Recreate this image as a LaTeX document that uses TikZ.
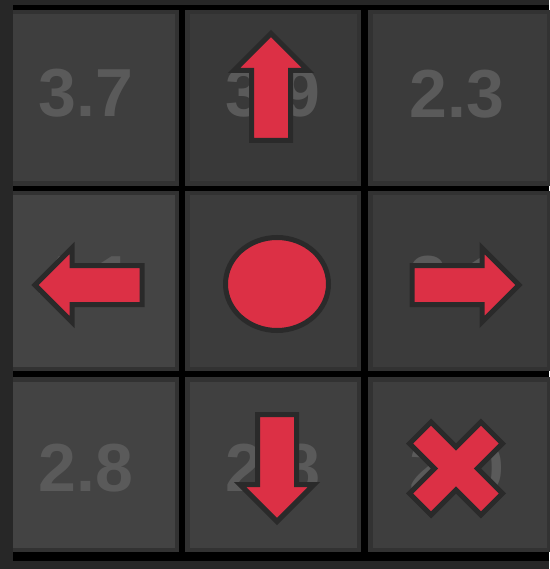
\documentclass[tikz,border=0pt]{standalone}
\usepackage{fontspec}
\setsansfont{Liberation Sans}
\usepackage{tikz}

\definecolor{fondo}{HTML}{272727}
\definecolor{borde}{HTML}{323232}
\definecolor{rojo}{HTML}{DC3045}
\definecolor{contorno}{HTML}{2A2A2A}
\definecolor{cifra}{HTML}{5A5A5A}

\tikzset{
  celda/.style={draw=borde, line width=4.5pt},
  valor/.style={font=\sffamily\bfseries\fontsize{68}{70}\selectfont, text=cifra, inner sep=0pt},
  icono/.style={fill=rojo, draw=contorno, line width=5pt, line join=miter}
}

% flecha: x, y, giro
\newcommand{\flecha}[3]{%
  \draw[icono, shift={(#1,#2)}, rotate=#3]
    (0,-53) -- (37,-16) -- (19.5,-16) -- (19.5,54) -- (-19.5,54) -- (-19.5,-16) -- (-37,-16) -- cycle;
}

\begin{document}
\begin{tikzpicture}[x=1pt, y=-1pt]

  % 1. Fondo y rejilla negra
  \fill[fondo] (0,0) rectangle (549,569);
  \useasboundingbox (0,0) rectangle (549,569);
  \fill[black] (13,5) rectangle (549,561);

  % 2. Celdas
  \foreach \xa/\xb/\ya/\yb/\tono in {
      -3/179/10/186/24.3, 185/361/10/186/22.4, 368/551/10/186/23.1,
      -3/179/191/371/26.7, 185/361/191/371/23.5, 368/551/191/371/23.1,
      -3/179/377/552/26.3, 185/361/377/552/25.1, 368/551/377/552/24.3
  } {
      \filldraw[celda, fill=white!\tono!black] (\xa+2.25,\ya+2.25) rectangle (\xb-2.25,\yb-2.25);
  }
  \fill[fondo] (0,0) rectangle (13,569);

  % 3. Valores
  \foreach \n/\x/\y/\t in {
      11/86/93.5/3.7, 12/273/93.5/3.9, 13/457/94/2.3,
      21/86/280/4.1, 22/275/280/4.2, 23/457/280/3.1,
      31/86/468.5/2.8, 32/273/468.5/2.8, 33/457/468.5/2.0
  } {
      \node[valor] (v\n) at (\x,\y) {\t};
  }

  % 4. Acciones
  \flecha{271}{86.5}{0}
  \flecha{88}{285}{90}
  \flecha{466}{285}{-90}
  \flecha{277}{468.5}{180}
  \draw[icono] (277,284) ellipse [x radius=51.5, y radius=46.5];
  \draw[icono, shift={(456,468.5)}, rotate=45]
    (15.2,-50.5) -- (15.2,-15.2) -- (50.5,-15.2) -- (50.5,15.2) -- (15.2,15.2) -- (15.2,50.5)
    -- (-15.2,50.5) -- (-15.2,15.2) -- (-50.5,15.2) -- (-50.5,-15.2) -- (-15.2,-15.2) -- (-15.2,-50.5) -- cycle;

\end{tikzpicture}
\end{document}
